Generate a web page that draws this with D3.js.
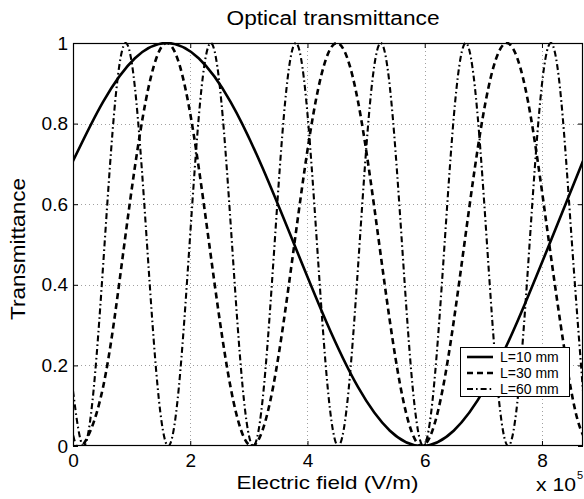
<!DOCTYPE html>
<html><head><meta charset="utf-8">
<script src="https://cdn.jsdelivr.net/npm/d3@7"></script>
<style>
body{margin:0;background:#fff}
svg{display:block}
text{font-family:"Liberation Sans",Arial,Helvetica,sans-serif;fill:#000}
</style></head>
<body><svg id="c" width="584" height="499"></svg>
<script>
// ---- data (electric field in units of 1e5 V/m) ----
const xTicks = [0, 2, 4, 6, 8];
const xTickLabels = ["0", "2", "4", "6", "8"];
const yTicks = [0, 0.2, 0.4, 0.6, 0.8, 1];
const yTickLabels = ["0", "0.2", "0.4", "0.6", "0.8", "1"];
const seriesNames = ["L=10 mm", "L=30 mm", "L=60 mm"];

const e10 = [0, 0.513, 1.056, 1.6, 2.144, 2.688, 3.231, 3.775, 4.319, 4.863, 5.406, 5.95, 6.494, 7.038, 7.581, 8.125, 8.7];
const t10 = [0.707, 0.854, 0.962, 1, 0.962, 0.854, 0.691, 0.5, 0.309, 0.146, 0.038, 0, 0.038, 0.146, 0.309, 0.5, 0.707];

const e30 = [0, 0.15, 0.513, 0.875, 1.238, 1.6, 1.963, 2.325, 2.688, 3.05, 3.413, 3.775, 4.138, 4.5, 4.863, 5.225, 5.588, 5.95, 6.313, 6.675, 7.038, 7.4, 7.763, 8.125, 8.488, 8.7];
const t30 = [0.026, 0, 0.146, 0.5, 0.854, 1, 0.854, 0.5, 0.146, 0, 0.146, 0.5, 0.854, 1, 0.854, 0.5, 0.146, 0, 0.146, 0.5, 0.854, 1, 0.854, 0.5, 0.146, 0.027];

const e60 = [0, 0.175, 0.356, 0.538, 0.719, 0.9, 1.081, 1.263, 1.444, 1.625, 1.806, 1.988, 2.169, 2.35, 2.531, 2.713, 2.894, 3.075, 3.256, 3.438, 3.619, 3.8, 3.981, 4.163, 4.344, 4.525, 4.706, 4.888, 5.069, 5.25, 5.431, 5.613, 5.794, 5.975, 6.156, 6.338, 6.519, 6.7, 6.881, 7.063, 7.244, 7.425, 7.606, 7.788, 7.969, 8.15, 8.331, 8.513, 8.7];
const t60 = [0.137,
  0, 0.146, 0.5, 0.854, 1, 0.854, 0.5, 0.146,
  0, 0.146, 0.5, 0.854, 1, 0.854, 0.5, 0.146,
  0, 0.146, 0.5, 0.854, 1, 0.854, 0.5, 0.146,
  0, 0.146, 0.5, 0.854, 1, 0.854, 0.5, 0.146,
  0, 0.146, 0.5, 0.854, 1, 0.854, 0.5, 0.146,
  0, 0.146, 0.5, 0.854, 1, 0.854, 0.5,
  0.137];

// ---- layout ----
const L = 73, R = 583, T = 43, B = 446;
const svg = d3.select("#c");
const x = d3.scaleLinear().domain([0, 8.7]).range([L, R]);
const y = d3.scaleLinear().domain([0, 1]).range([B, T]);

// grid
const grid = svg.append("g").attr("stroke", "#a0a0a0").attr("stroke-width", 1).attr("stroke-dasharray", "1,3");
grid.selectAll(".gx").data(xTicks.filter(d => d > 0)).enter().append("line")
  .attr("x1", d => Math.round(x(d)) + 0.5).attr("x2", d => Math.round(x(d)) + 0.5)
  .attr("y1", T).attr("y2", B);
grid.selectAll(".gy").data(yTicks.filter(d => d > 0 && d < 1)).enter().append("line")
  .attr("y1", d => Math.round(y(d)) + 0.5).attr("y2", d => Math.round(y(d)) + 0.5)
  .attr("x1", L).attr("x2", R);

// curves
svg.append("clipPath").attr("id", "pc").append("rect")
  .attr("x", L).attr("y", T - 1).attr("width", R - L).attr("height", B - T + 1);
const series = [
  {e: e10, t: t10, w: 2.6, dash: null},
  {e: e30, t: t30, w: 2.6, dash: "6,4"},
  {e: e60, t: t60, w: 2.1, dash: "6,3,1.6,3"}
];
const line = d3.line().x(d => x(d[0])).y(d => y(d[1])).curve(d3.curveNatural);
const cg = svg.append("g").attr("clip-path", "url(#pc)");
series.forEach(s => {
  cg.append("path").datum(s.e.map((v, i) => [v, s.t[i]]))
    .attr("d", line).attr("fill", "none").attr("stroke", "#000")
    .attr("stroke-width", s.w).attr("stroke-dasharray", s.dash);
});

// axes
const fs = "19px";
const ax = svg.append("g").attr("transform", `translate(0,${B})`)
  .call(d3.axisBottom(x).tickValues(xTicks).tickFormat((d, i) => xTickLabels[i]).tickSizeInner(-5).tickSizeOuter(0).tickPadding(8));
const ay = svg.append("g").attr("transform", `translate(${L},0)`)
  .call(d3.axisLeft(y).tickValues(yTicks).tickFormat((d, i) => yTickLabels[i]).tickSizeInner(-5).tickSizeOuter(0).tickPadding(5));
const at = svg.append("g").attr("transform", `translate(0,${T})`)
  .call(d3.axisTop(x).tickValues(xTicks).tickFormat("").tickSizeInner(-5).tickSizeOuter(0));
const ar = svg.append("g").attr("transform", `translate(${R},0)`)
  .call(d3.axisRight(y).tickValues(yTicks).tickFormat("").tickSizeInner(-5).tickSizeOuter(0));
[ax, ay, at, ar].forEach(g => {
  g.select(".domain").remove();
  g.selectAll("line").attr("stroke", "#000");
  g.selectAll("text").attr("font-size", fs).attr("font-family", null).attr("fill", "#000");
});
svg.append("rect").attr("x", L + 0.5).attr("y", T + 0.5).attr("width", R - L - 1).attr("height", B - T - 1)
  .attr("fill", "none").attr("stroke", "#000").attr("stroke-width", 1.2);

// titles
svg.append("text").attr("x", 333).attr("y", 25).attr("text-anchor", "middle")
  .attr("font-size", "19.5px").attr("textLength", 213).attr("lengthAdjust", "spacingAndGlyphs")
  .text("Optical transmittance");
svg.append("text").attr("x", 327.5).attr("y", 488.5).attr("text-anchor", "middle")
  .attr("font-size", "19px").attr("textLength", 182).attr("lengthAdjust", "spacingAndGlyphs")
  .text("Electric field (V/m)");
svg.append("text").attr("transform", "translate(25,249) rotate(-90)").attr("text-anchor", "middle")
  .attr("font-size", "19.5px").attr("textLength", 142).attr("lengthAdjust", "spacingAndGlyphs")
  .text("Transmittance");
svg.append("text").attr("x", 536).attr("y", 491).attr("font-size", fs)
  .attr("textLength", 40).attr("lengthAdjust", "spacingAndGlyphs").text("x 10");
svg.append("text").attr("x", 577).attr("y", 479).attr("font-size", "11px").text("5");

// legend
const lg = svg.append("g");
lg.append("rect").attr("x", 460.5).attr("y", 347.5).attr("width", 109).attr("height", 49)
  .attr("fill", "#fff").attr("stroke", "#000").attr("stroke-width", 1);
seriesNames.forEach((n, i) => {
  const yy = 357 + i * 16;
  lg.append("line").attr("x1", 467).attr("x2", 493).attr("y1", yy).attr("y2", yy)
    .attr("stroke", "#000").attr("stroke-width", series[i].w).attr("stroke-dasharray", series[i].dash);
  lg.append("text").attr("x", 500).attr("y", yy + 5).attr("font-size", "14px").text(n);
});
</script></body></html>
